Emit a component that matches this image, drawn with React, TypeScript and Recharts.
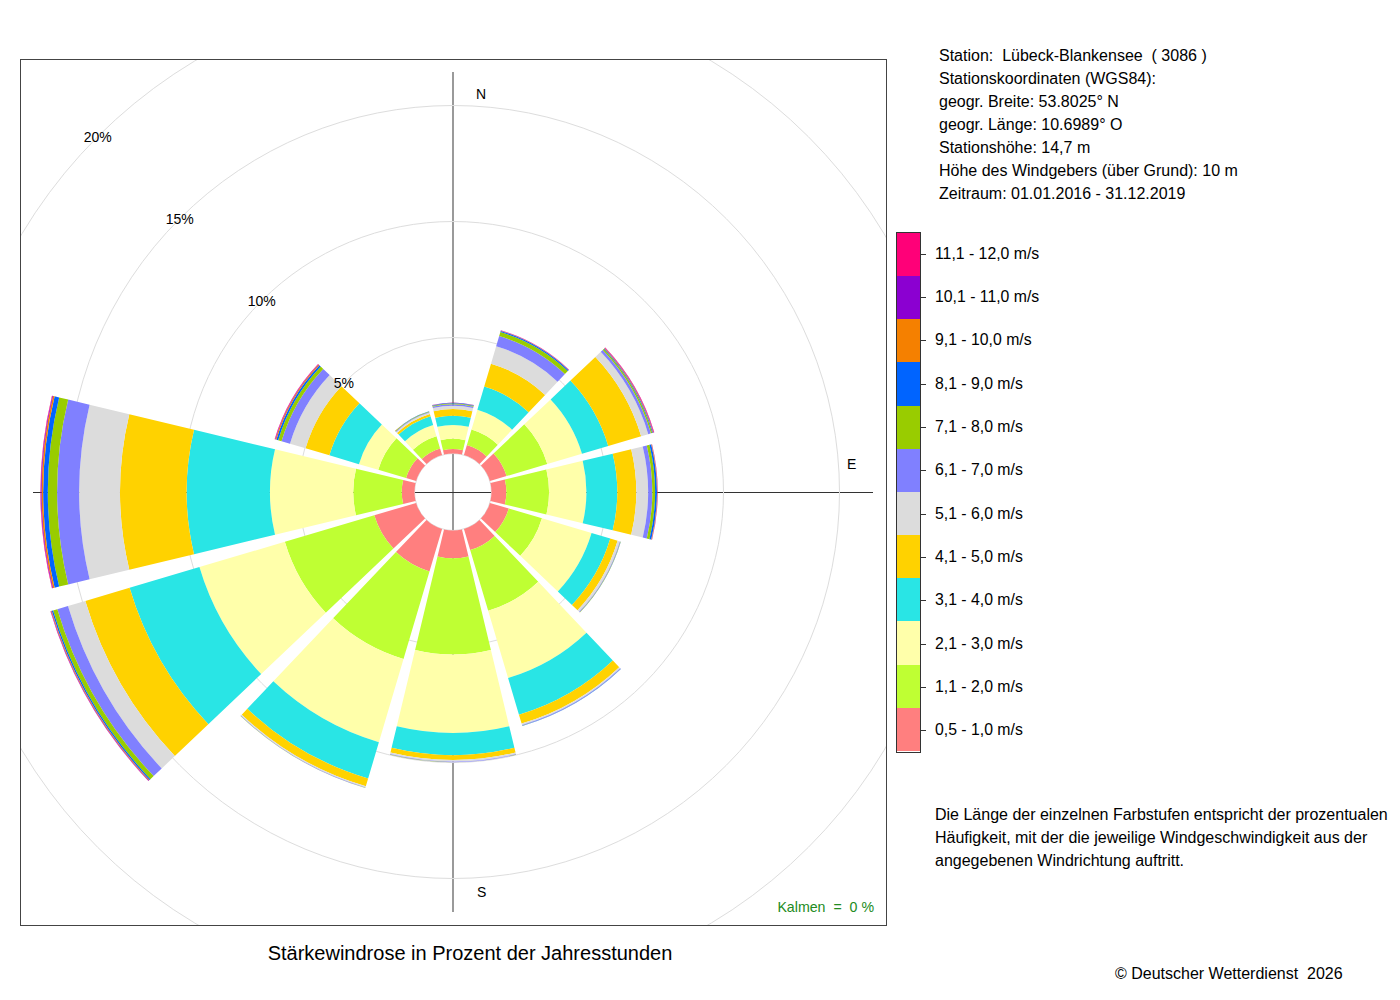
import React from "react";
import { RadialBarChart, RadialBar, PolarGrid, PolarAngleAxis, PolarRadiusAxis } from "recharts";

// wind directions, clockwise from north, 30 degree sectors
const directions = ["N", "NNO", "ONO", "O", "OSO", "SSO", "S", "SSW", "WSW", "W", "WNW", "NNW"];

// share of the year's hours in % per speed class, one value per direction
const v05to10 = [0.19, 0.45, 0.75, 0.64, 0.85, 0.95, 1.2, 1.91, 1.88, 0.55, 0.45, 0.3];
const v11to20 = [0.44, 0.7, 1.83, 1.84, 1.49, 2.73, 4.14, 3.94, 4.02, 2.09, 1.25, 0.55];
const v21to30 = [0.6, 0.89, 1.56, 1.61, 2.23, 3.02, 3.38, 3.74, 3.84, 3.59, 0.87, 0.5];
const v31to40 = [0.4, 1.04, 1.18, 1.33, 0.84, 1.65, 0.96, 1.63, 3.14, 3.59, 1.33, 0.4];
const v41to50 = [0.29, 1.03, 1.48, 0.82, 0.33, 0.4, 0.21, 0.35, 1.99, 2.87, 1.07, 0.1];
const v51to60 = [0.14, 0.78, 0.32, 0.51, 0.1, 0.06, 0.07, 0.05, 0.78, 1.76, 0.7, 0.06];
const v61to70 = [0.06, 0.46, 0.12, 0.18, 0.03, 0.03, 0.02, 0.02, 0.48, 0.95, 0.38, 0.03];
const v71to80 = [0.03, 0.18, 0.06, 0.12, 0.01, 0.01, 0.005, 0.005, 0.19, 0.4, 0.15, 0.02];
const v81to90 = [0.03, 0.05, 0.03, 0.08, 0.005, 0.005, 0, 0, 0.06, 0.2, 0.08, 0.01];
const v91to100 = [0.01, 0.01, 0.02, 0.02, 0, 0, 0, 0, 0.03, 0.07, 0.04, 0.005];
const v101to110 = [0.005, 0.01, 0.02, 0.01, 0, 0, 0, 0, 0.02, 0.03, 0.02, 0];
const v111to120 = [0.005, 0.01, 0.02, 0.005, 0, 0, 0, 0, 0.01, 0.02, 0.02, 0];

const classLabels = [
  "0,5 - 1,0 m/s",
  "1,1 - 2,0 m/s",
  "2,1 - 3,0 m/s",
  "3,1 - 4,0 m/s",
  "4,1 - 5,0 m/s",
  "5,1 - 6,0 m/s",
  "6,1 - 7,0 m/s",
  "7,1 - 8,0 m/s",
  "8,1 - 9,0 m/s",
  "9,1 - 10,0 m/s",
  "10,1 - 11,0 m/s",
  "11,1 - 12,0 m/s",
];

const radiusTicks = [0, 5, 10, 15, 20, 25];

const classValues = [
  v05to10, v11to20, v21to30, v31to40, v41to50, v51to60,
  v61to70, v71to80, v81to90, v91to100, v101to110, v111to120,
];

const colors = [
  "#FF7F7F", "#BFFF33", "#FFFFAA", "#29E5E5", "#FFD200", "#DCDCDC",
  "#8080FF", "#99CC00", "#0064FF", "#F58000", "#8B00D1", "#FF0078",
];

const rows = directions.map((dir, i) => {
  const row: any = { dir };
  classValues.forEach((vals, k) => {
    row["c" + k] = vals[i];
  });
  return row;
});

const font = '"Liberation Sans", Arial, Helvetica, sans-serif';

const RadiusTick = (props: any) => {
  const { x, y, payload } = props;
  if (payload.value === 0) return <g />;
  return (
    <text x={x} y={y} textAnchor="middle" dominantBaseline="central" fontSize={14} fill="#000" fontFamily={font}>
      {payload.value}%
    </text>
  );
};

const stationLines = [
  "Station:  Lübeck-Blankensee  ( 3086 )",
  "Stationskoordinaten (WGS84):",
  "geogr. Breite: 53.8025° N",
  "geogr. Länge: 10.6989° O",
  "Stationshöhe: 14,7 m",
  "Höhe des Windgebers (über Grund): 10 m",
  "Zeitraum: 01.01.2016 - 31.12.2019",
];

const noteLines = [
  "Die Länge der einzelnen Farbstufen entspricht der prozentualen",
  "Häufigkeit, mit der die jeweilige Windgeschwindigkeit aus der",
  "angegebenen Windrichtung auftritt.",
];

export default function App() {
  const legendTop = 232;
  const blockH = 520 / 12;
  return (
    <div style={{ position: "absolute", left: 0, top: 0, width: 1400, height: 1000, background: "#fff", fontFamily: font, color: "#000" }}>
      {/* axis cross */}
      <div style={{ position: "absolute", left: 452, top: 72, width: 2, height: 840, background: "#9a9a9a" }} />
      <div style={{ position: "absolute", left: 33, top: 492, width: 840, height: 1, background: "#333" }} />

      <div style={{ position: "absolute", left: 20, top: 59, width: 866, height: 866 }}>
        <RadialBarChart
          width={866}
          height={866}
          data={rows}
          layout="centric"
          startAngle={75}
          endAngle={-285}
          innerRadius={38.5}
          outerRadius={618.5}
          barCategoryGap="5%"
          margin={{ top: 0, right: 0, bottom: 0, left: 0 }}
        >
          <PolarGrid gridType="circle" radialLines={false} stroke="#dddddd" />
          <PolarAngleAxis type="category" dataKey="dir" tick={false} axisLine={false} tickLine={false} />
          {classValues.map((_, k) => (
            <RadialBar
              key={k}
              dataKey={"c" + k}
              stackId="a"
              fill={colors[k]}
              stroke="none"
              isAnimationActive={false}
            />
          ))}
          <PolarRadiusAxis
            type="number"
            domain={[0, 25]}
            ticks={radiusTicks}
            angle={135}
            axisLine={false}
            tickLine={false}
            tick={<RadiusTick />}
          />
        </RadialBarChart>
      </div>

      {/* frame */}
      <div style={{ position: "absolute", left: 20, top: 59, width: 867, height: 867, boxSizing: "border-box", border: "1px solid #444" }} />

      <div style={{ position: "absolute", left: 476, top: 86, fontSize: 14 }}>N</div>
      <div style={{ position: "absolute", left: 847, top: 456, fontSize: 14 }}>E</div>
      <div style={{ position: "absolute", left: 477, top: 884, fontSize: 14 }}>S</div>
      <div style={{ position: "absolute", right: 1400 - 874, top: 899, fontSize: 14.2, color: "#228B22", whiteSpace: "pre" }}>
        {"Kalmen  =  0 %"}
      </div>

      <div style={{ position: "absolute", left: 0, width: 940, top: 942, textAlign: "center", fontSize: 20 }}>
        Stärkewindrose in Prozent der Jahresstunden
      </div>

      <div style={{ position: "absolute", left: 939, top: 43.5, fontSize: 16, lineHeight: "23.1px", whiteSpace: "pre" }}>
        {stationLines.map((t) => (
          <div key={t}>{t}</div>
        ))}
      </div>

      {/* colour legend */}
      <div style={{ position: "absolute", left: 896, top: legendTop, width: 25, height: 521, boxSizing: "border-box", border: "1px solid #333" }}>
        {colors
          .slice()
          .reverse()
          .map((c) => (
            <div key={c} style={{ height: blockH - 0.17, background: c }} />
          ))}
      </div>
      {classLabels
        .slice()
        .reverse()
        .map((label, i) => {
          const cy = legendTop + blockH * (i + 0.5);
          return (
            <React.Fragment key={label}>
              <div style={{ position: "absolute", left: 921, top: cy, width: 5, height: 1, background: "#333" }} />
              <div style={{ position: "absolute", left: 935, top: cy - 10, fontSize: 15.8, lineHeight: "20px", whiteSpace: "pre" }}>{label}</div>
            </React.Fragment>
          );
        })}

      <div style={{ position: "absolute", left: 935, top: 802.5, fontSize: 16, lineHeight: "23px", whiteSpace: "pre" }}>
        {noteLines.map((t) => (
          <div key={t}>{t}</div>
        ))}
      </div>

      <div style={{ position: "absolute", left: 1115, top: 965, fontSize: 16, whiteSpace: "pre" }}>
        {"© Deutscher Wetterdienst  2026"}
      </div>
    </div>
  );
}
